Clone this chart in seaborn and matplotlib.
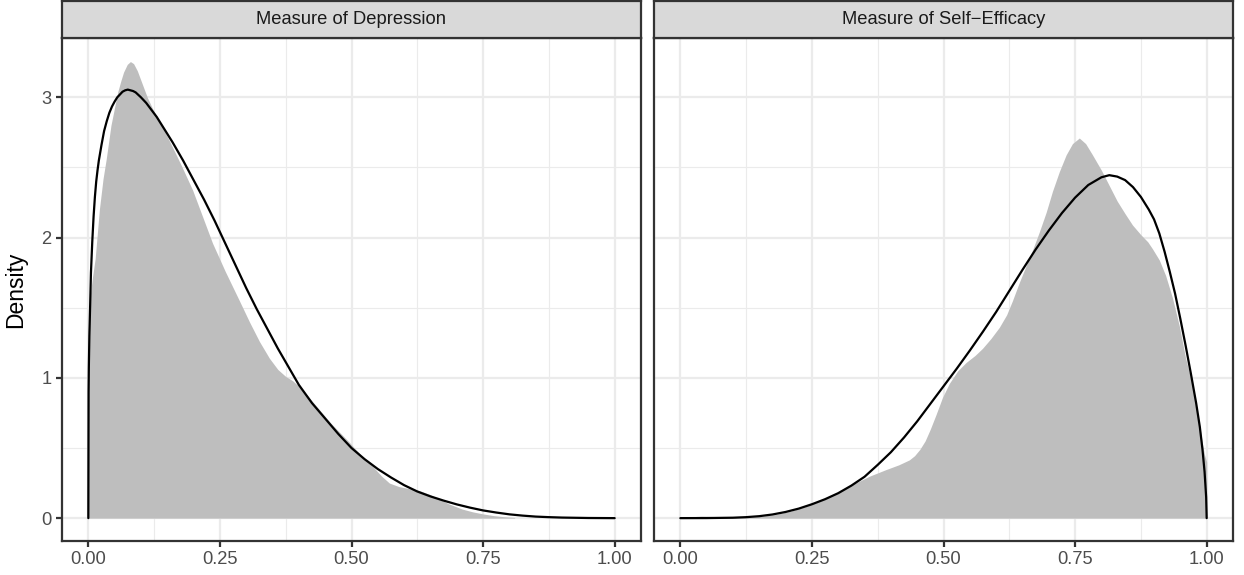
import numpy as np
import pandas as pd
import matplotlib
matplotlib.use("Agg")
import matplotlib.pyplot as plt
import seaborn as sns

# ---------------- data ----------------
panel_titles = ["Measure of Depression", "Measure of Self\u2212Efficacy"]
x_ticks = [0.0, 0.25, 0.5, 0.75, 1.0]
x_tick_labels = ["0.00", "0.25", "0.50", "0.75", "1.00"]
y_ticks = [0, 1, 2, 3]
y_tick_labels = ["0", "1", "2", "3"]

# Depression: empirical density (grey area)
dep_emp_x = [0.0, 0.004, 0.008, 0.013, 0.021, 0.028, 0.034, 0.043, 0.050, 0.056,
             0.062, 0.067, 0.074, 0.080, 0.086, 0.093, 0.103, 0.112, 0.122, 0.138,
             0.154, 0.176, 0.198, 0.216, 0.236, 0.26, 0.287, 0.306, 0.325, 0.344,
             0.36, 0.375, 0.388, 0.40, 0.415, 0.433, 0.46, 0.496, 0.52, 0.54,
             0.557, 0.572, 0.59, 0.61, 0.63, 0.648, 0.667, 0.686, 0.71, 0.73,
             0.75, 0.77, 0.79, 0.81]
dep_emp_y = [1.35, 1.60, 1.72, 1.85, 2.20, 2.42, 2.56, 2.80, 2.93, 3.04,
             3.12, 3.18, 3.235, 3.255, 3.24, 3.19, 3.09, 3.00, 2.92, 2.81,
             2.69, 2.52, 2.34, 2.16, 1.96, 1.76, 1.55, 1.40, 1.26, 1.14,
             1.06, 1.01, 0.98, 0.94, 0.88, 0.80, 0.68, 0.54, 0.44, 0.37,
             0.30, 0.25, 0.225, 0.21, 0.195, 0.17, 0.135, 0.10, 0.065, 0.045,
             0.03, 0.018, 0.01, 0.005]

# Depression: fitted beta density (black line)
dep_fit_x = [0.0, 0.0005, 0.001, 0.002, 0.0035, 0.005, 0.0075, 0.01, 0.0125, 0.015,
             0.0175, 0.02, 0.025, 0.03, 0.035, 0.04, 0.045, 0.05, 0.055, 0.06,
             0.065, 0.07, 0.075, 0.08, 0.085, 0.09, 0.10, 0.11, 0.12, 0.13,
             0.14, 0.15, 0.16, 0.17, 0.18, 0.19, 0.20, 0.21, 0.22, 0.24,
             0.26, 0.28, 0.30, 0.32, 0.34, 0.36, 0.38, 0.40, 0.425, 0.45,
             0.475, 0.50, 0.525, 0.55, 0.575, 0.60, 0.625, 0.65, 0.675, 0.70,
             0.725, 0.75, 0.775, 0.80, 0.825, 0.85, 0.875, 0.90, 0.95, 1.0]
dep_fit_y = [0.0, 0.90, 1.08, 1.30, 1.52, 1.75, 1.97, 2.15, 2.29, 2.40,
             2.48, 2.55, 2.66, 2.76, 2.83, 2.89, 2.935, 2.97, 3.00, 3.02,
             3.04, 3.05, 3.055, 3.05, 3.045, 3.035, 3.00, 2.96, 2.91, 2.86,
             2.80, 2.74, 2.68, 2.615, 2.55, 2.48, 2.41, 2.34, 2.27, 2.12,
             1.96, 1.80, 1.64, 1.49, 1.35, 1.21, 1.08, 0.95, 0.82, 0.71,
             0.60, 0.50, 0.42, 0.35, 0.29, 0.235, 0.19, 0.155, 0.125, 0.098,
             0.075, 0.055, 0.04, 0.027, 0.018, 0.011, 0.007, 0.004, 0.001, 0.0]

# Self-efficacy: empirical density (grey area)
se_emp_x = [0.0, 0.02, 0.04, 0.06, 0.09, 0.12, 0.15, 0.18, 0.21, 0.24,
            0.27, 0.30, 0.33, 0.36, 0.39, 0.415, 0.435, 0.445, 0.455, 0.465,
            0.475, 0.486, 0.498, 0.511, 0.527, 0.543, 0.56, 0.574, 0.59, 0.606,
            0.62, 0.631, 0.644, 0.657, 0.670, 0.682, 0.695, 0.707, 0.72, 0.733,
            0.745, 0.758, 0.770, 0.783, 0.80, 0.815, 0.83, 0.845, 0.859, 0.875,
            0.888, 0.897, 0.91, 0.922, 0.935, 0.948, 0.960, 0.973, 0.985, 0.992,
            0.996, 1.0]
se_emp_y = [0.004, 0.010, 0.014, 0.012, 0.007, 0.006, 0.012, 0.025, 0.05, 0.085,
            0.13, 0.185, 0.245, 0.30, 0.345, 0.38, 0.415, 0.445, 0.49, 0.55,
            0.635, 0.74, 0.86, 0.96, 1.05, 1.11, 1.16, 1.21, 1.28, 1.36,
            1.45, 1.55, 1.68, 1.80, 1.92, 2.04, 2.18, 2.33, 2.47, 2.59,
            2.67, 2.71, 2.67, 2.59, 2.48, 2.37, 2.26, 2.17, 2.09, 2.02,
            1.97, 1.92, 1.84, 1.73, 1.57, 1.37, 1.14, 0.95, 0.70, 0.53,
            0.45, 0.40]

# Self-efficacy: fitted beta density (black line)
se_fit_x = [0.0, 0.05, 0.10, 0.125, 0.15, 0.175, 0.20, 0.225, 0.25, 0.275,
            0.30, 0.325, 0.35, 0.375, 0.40, 0.425, 0.45, 0.475, 0.50, 0.525,
            0.55, 0.575, 0.60, 0.625, 0.65, 0.675, 0.70, 0.725, 0.75, 0.775,
            0.80, 0.815, 0.83, 0.845, 0.86, 0.875, 0.89, 0.90, 0.91, 0.92,
            0.93, 0.94, 0.95, 0.96, 0.97, 0.98, 0.987, 0.992, 0.996, 0.999,
            1.0]
se_fit_y = [0.0, 0.0005, 0.003, 0.007, 0.014, 0.026, 0.044, 0.068, 0.099, 0.135,
            0.178, 0.232, 0.295, 0.38, 0.47, 0.575, 0.69, 0.815, 0.94, 1.065,
            1.195, 1.33, 1.47, 1.62, 1.77, 1.915, 2.05, 2.175, 2.285, 2.375,
            2.43, 2.445, 2.435, 2.41, 2.36, 2.29, 2.20, 2.13, 2.03, 1.90,
            1.755, 1.60, 1.42, 1.23, 1.03, 0.82, 0.65, 0.49, 0.33, 0.15,
            0.0]

emp = [pd.DataFrame({"x": dep_emp_x, "y": dep_emp_y}),
       pd.DataFrame({"x": se_emp_x, "y": se_emp_y})]
fit = [pd.DataFrame({"x": dep_fit_x, "y": dep_fit_y}),
       pd.DataFrame({"x": se_fit_x, "y": se_fit_y})]

# ---------------- style ----------------
sns.set_theme(style="white")
plt.rcParams["font.family"] = ["Liberation Sans", "DejaVu Sans"]

W, H = 1244, 575
DPI = 150
fig = plt.figure(figsize=(W / DPI, H / DPI), dpi=DPI)
fig.patch.set_facecolor("white")

LW = 1.07
DARK = "#333333"
GRID = "#EBEBEB"

panels_px = [(62, 641), (654, 1233)]
top_px, bot_px, strip_top_px = 38, 541, 1

ylim = (-0.163, 3.423)
xlim = (-0.05, 1.05)

for i, (x0, x1) in enumerate(panels_px):
    ax = fig.add_axes([x0 / W, (H - bot_px) / H, (x1 - x0) / W, (bot_px - top_px) / H])
    ax.set_facecolor("white")
    ax.set_xlim(*xlim)
    ax.set_ylim(*ylim)

    # grid
    for gx in [0.125, 0.375, 0.625, 0.875]:
        ax.axvline(gx, color=GRID, lw=LW * 0.5, zorder=0)
    for gy in [0.5, 1.5, 2.5]:
        ax.axhline(gy, color=GRID, lw=LW * 0.5, zorder=0)
    for gx in x_ticks:
        ax.axvline(gx, color=GRID, lw=LW, zorder=0)
    for gy in y_ticks:
        ax.axhline(gy, color=GRID, lw=LW, zorder=0)

    d = emp[i]
    ax.fill_between(d["x"], 0, d["y"], color="#BEBEBE", lw=0, zorder=2)
    sns.lineplot(data=fit[i], x="x", y="y", ax=ax, color="black", lw=LW,
                 estimator=None, sort=False, zorder=3)

    ax.set_xticks(x_ticks)
    ax.set_xticklabels(x_tick_labels)
    ax.set_yticks(y_ticks)
    ax.tick_params(axis="both", which="major", length=2.75, width=LW, color=DARK,
                   labelsize=8.8, labelcolor="#4D4D4D", pad=2.2,
                   bottom=True, left=(i == 0))
    if i == 0:
        ax.set_yticklabels(y_tick_labels)
        ax.set_ylabel("Density", fontsize=11, color="black", labelpad=7)
    else:
        ax.set_yticklabels([])
        ax.set_ylabel("")
    ax.set_xlabel("")
    for s in ax.spines.values():
        s.set_visible(True)
        s.set_color(DARK)
        s.set_linewidth(LW)
        s.set_zorder(5)

    # strip
    sax = fig.add_axes([x0 / W, (H - top_px) / H, (x1 - x0) / W, (top_px - strip_top_px) / H])
    sax.set_facecolor("#D9D9D9")
    sax.set_xticks([])
    sax.set_yticks([])
    for s in sax.spines.values():
        s.set_visible(True)
        s.set_color(DARK)
        s.set_linewidth(LW)
    sax.text(0.5, 0.5, panel_titles[i], ha="center", va="center",
             fontsize=8.8, color="#1A1A1A", transform=sax.transAxes)

fig.savefig("out.png", dpi=DPI, facecolor="white")
